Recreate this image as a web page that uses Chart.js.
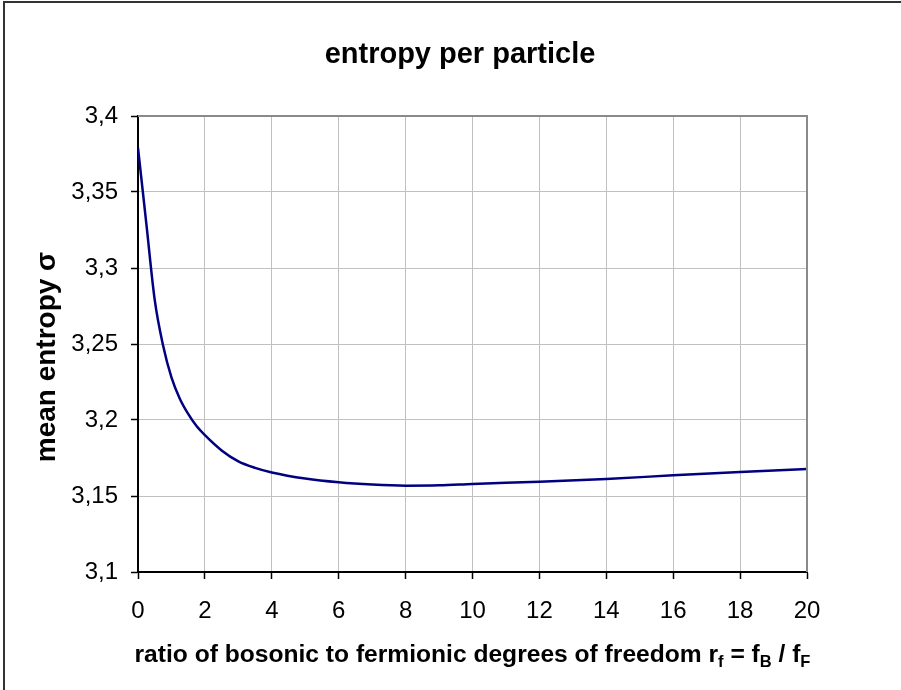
<!DOCTYPE html>
<html>
<head>
<meta charset="utf-8">
<script src="https://cdn.jsdelivr.net/npm/chart.js@4"></script>
<style>
    html, body { margin: 0; padding: 0; background: #fff; }
    #wrap { width: 901px; height: 690px; }
</style>
</head>
<body>
<div id="wrap"><canvas id="chartEntropy" width="901" height="690"></canvas></div>
<script>
// Dados
const ratioValues = [0, 0.25, 0.5, 0.75, 1, 1.25, 1.5, 1.75, 2, 2.5, 3, 3.5, 4, 5, 6, 7, 8, 9, 10, 12, 14, 16, 18, 20];
const entropyValues = [3.379, 3.329, 3.279, 3.249, 3.228, 3.214, 3.204, 3.196, 3.190, 3.180, 3.1728, 3.1685, 3.1655, 3.1615, 3.159, 3.1575, 3.1568, 3.157, 3.1579, 3.1594, 3.1612, 3.1636, 3.1658, 3.1678];

const xTicks = [0, 2, 4, 6, 8, 10, 12, 14, 16, 18, 20];
const xTickLabels = ['0', '2', '4', '6', '8', '10', '12', '14', '16', '18', '20'];
const yTicks = [3.1, 3.15, 3.2, 3.25, 3.3, 3.35, 3.4];
const yTickLabels = ['3,1', '3,15', '3,2', '3,25', '3,3', '3,35', '3,4'];

const chartTitle = 'entropy per particle';
const yTitle = 'mean entropy σ';
// título do eixo x em partes: [texto, subscrito?]
const xTitleParts = [
    ['ratio of bosonic to fermionic degrees of freedom r', false],
    ['f', true],
    [' = f', false],
    ['B', true],
    [' / f', false],
    ['F', true]
];

const FONT = 'Arial, "Liberation Sans", Helvetica, sans-serif';

// Moldura, bordas da área do gráfico e títulos
const decorPlugin = {
    id: 'decor',
    beforeDraw(chart) {
        const ctx = chart.ctx;
        ctx.save();
        ctx.fillStyle = '#fff';
        ctx.fillRect(0, 0, chart.width, chart.height);
        ctx.strokeStyle = '#333';
        ctx.lineWidth = 2;
        ctx.beginPath();
        ctx.moveTo(4, chart.height);
        ctx.lineTo(4, 2);
        ctx.lineTo(chart.width, 2);
        ctx.stroke();
        ctx.restore();
    },
    afterDatasetsDraw(chart) {
        const ctx = chart.ctx;
        const a = chart.chartArea;
        ctx.save();
        ctx.strokeStyle = '#8a8a8a';
        ctx.lineWidth = 2;
        ctx.beginPath();
        ctx.moveTo(a.left, a.top);
        ctx.lineTo(a.right, a.top);
        ctx.lineTo(a.right, a.bottom);
        ctx.stroke();

        ctx.fillStyle = '#000';
        // título principal
        ctx.font = 'bold 29px ' + FONT;
        ctx.textAlign = 'center';
        ctx.textBaseline = 'alphabetic';
        ctx.fillText(chartTitle, 460, 63);

        // título do eixo y
        ctx.save();
        ctx.translate(55, 357);
        ctx.rotate(-Math.PI / 2);
        ctx.font = 'bold 28px ' + FONT;
        ctx.fillText(yTitle, 0, 0);
        ctx.restore();

        // título do eixo x com subscritos
        const mainFont = 'bold 24.6px ' + FONT;
        const subFont = 'bold 16.5px ' + FONT;
        let total = 0;
        xTitleParts.forEach(([txt, sub]) => {
            ctx.font = sub ? subFont : mainFont;
            total += ctx.measureText(txt).width;
        });
        let x = (a.left + a.right) / 2 - total / 2;
        const base = 662;
        ctx.textAlign = 'left';
        xTitleParts.forEach(([txt, sub]) => {
            ctx.font = sub ? subFont : mainFont;
            ctx.fillText(txt, x, sub ? base + 5 : base);
            x += ctx.measureText(txt).width;
        });
        ctx.restore();
    }
};

const chartEntropy = new Chart(document.getElementById('chartEntropy').getContext('2d'), {
    type: 'line',
    data: {
        datasets: [{
            data: ratioValues.map((r, i) => ({ x: r, y: entropyValues[i] })),
            borderColor: '#000080',
            borderWidth: 2.5,
            pointRadius: 0,
            fill: false,
            cubicInterpolationMode: 'monotone'
        }]
    },
    options: {
        responsive: false,
        animation: false,
        layout: { padding: { top: 116, right: 94, left: 0, bottom: 0 } },
        plugins: {
            legend: { display: false },
            tooltip: { enabled: false },
            title: { display: false }
        },
        scales: {
            x: {
                type: 'linear',
                min: 0,
                max: 20,
                afterFit: scale => { scale.height = 118; },
                afterBuildTicks: scale => { scale.ticks = xTicks.map(v => ({ value: v })); },
                ticks: {
                    callback: (v, i) => xTickLabels[i],
                    color: '#000',
                    font: { family: FONT, size: 24 },
                    padding: 18,
                    maxRotation: 0,
                    autoSkip: false
                },
                grid: { color: '#c0c0c0', lineWidth: 1, tickColor: '#000', tickLength: 7, tickWidth: 1.5 },
                border: { color: '#000', width: 2 }
            },
            y: {
                min: 3.1,
                max: 3.4,
                afterFit: scale => { scale.width = 138; },
                afterBuildTicks: scale => { scale.ticks = yTicks.map(v => ({ value: v })); },
                ticks: {
                    callback: (v, i) => yTickLabels[i],
                    color: '#000',
                    font: { family: FONT, size: 24 },
                    padding: 13,
                    autoSkip: false
                },
                grid: { color: '#c0c0c0', lineWidth: 1, tickColor: '#000', tickLength: 7, tickWidth: 1.5 },
                border: { color: '#000', width: 2 }
            }
        }
    },
    plugins: [decorPlugin]
});
</script>
</body>
</html>
